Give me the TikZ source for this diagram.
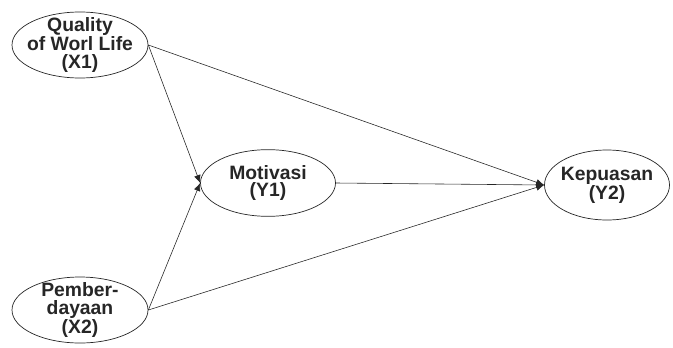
\documentclass[tikz,border=0pt]{standalone}
\usepackage{fontspec}
\setmainfont{Liberation Sans}
\usepackage{tikz}
\usetikzlibrary{arrows.meta, positioning, shapes.geometric}
\definecolor{kline}{HTML}{262626}

\tikzset{
  latent/.style={ellipse, draw=kline, line width=0.6pt, inner sep=-6pt,
    font=\bfseries\fontsize{16.5}{15}\selectfont, text=kline, align=center},
  path/.style={draw=kline, line width=0.5pt, -{Latex[length=2.4mm, width=2mm]}}
}

\begin{document}
\begin{tikzpicture}[x=1cm, y=1cm]
\useasboundingbox (0,0) rectangle (20.19,10.41);
\node[latent, minimum width=4.08cm, minimum height=1.98cm] (x1) at (2.40,9.06) {Quality\\of Worl Life\\(X1)};
\node[latent, minimum width=4.08cm, minimum height=1.98cm] (x2) at (2.40,1.11) {Pember-\\dayaan\\(X2)};
\node[latent, minimum width=4.05cm, minimum height=2.00cm] (y1) at (8.04,4.92) {Motivasi\\(Y1)};
\node[latent, minimum width=3.75cm, minimum height=2.10cm] (y2) at (18.21,4.86) {Kepuasan\\(Y2)};
% paths
\draw[path] (x1.east) -- (y1.west);
\draw[path] (x2.east) -- (y1.west);
\draw[path] (x1.east) -- (y2.west);
\draw[path] (x2.east) -- (y2.west);
\draw[path] (y1.east) -- (y2.west);
\end{tikzpicture}
\end{document}
